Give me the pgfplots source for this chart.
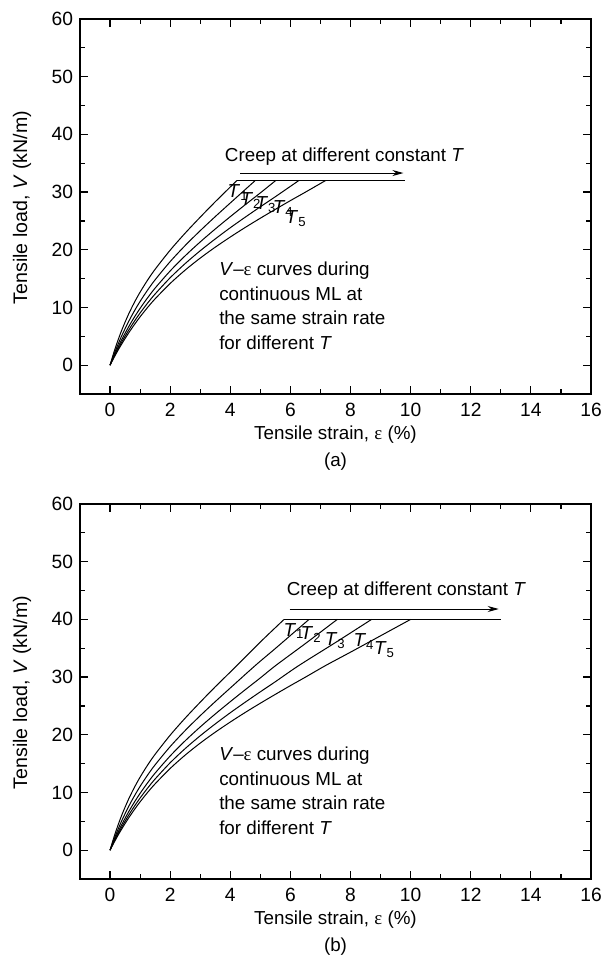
\documentclass[border=0pt]{standalone}
\usepackage{fontspec}
\setmainfont{Liberation Sans}
\newfontfamily\serifgr{Liberation Serif}
\usepackage{pgfplots}
\pgfplotsset{compat=1.18}
\usetikzlibrary{arrows.meta}
\pgfplotstableread{
x y
0 0
0.1 1.76
0.2 3.36
0.3 4.84
0.4 6.21
0.6 8.65
0.8 10.78
1.0 12.66
1.25 14.75
1.5 16.62
2.0 19.93
2.5 22.89
3.0 25.65
3.5 28.32
4.22 32
5.0 36.08
5.79 40
}\tA
\pgfplotstableread{
x y
0 0
0.1 1.44
0.2 2.78
0.3 4.04
0.4 5.23
0.6 7.38
0.8 9.31
1.0 11.06
1.25 13.02
1.5 14.80
2.0 17.95
2.5 20.74
3.0 23.31
3.5 25.75
4.0 28.11
4.83 32
5.5 34.96
6.0 37.21
6.62 40
}\tB
\pgfplotstableread{
x y
0 0
0.1 1.23
0.2 2.40
0.3 3.50
0.4 4.54
0.6 6.48
0.8 8.24
1.0 9.85
1.25 11.68
1.5 13.36
2.0 16.33
2.5 18.96
3.0 21.36
3.5 23.60
4.0 25.74
4.5 27.82
5.0 29.86
5.51 32
6.5 35.82
7.56 40
}\tC
\pgfplotstableread{
x y
0 0
0.1 1.10
0.2 2.16
0.3 3.16
0.4 4.11
0.6 5.90
0.8 7.53
1.0 9.04
1.25 10.76
1.5 12.34
2.0 15.15
2.5 17.61
3.0 19.83
3.5 21.88
4.0 23.82
4.5 25.66
5.0 27.45
5.5 29.20
6.28 32
7.5 35.99
8.7 40
}\tD
\pgfplotstableread{
x y
0 0
0.1 1.01
0.2 1.97
0.3 2.89
0.4 3.77
0.6 5.43
0.8 6.96
1.0 8.38
1.25 10.01
1.5 11.50
2.0 14.16
2.5 16.48
3.0 18.56
3.5 20.45
4.0 22.21
4.5 23.88
5.0 25.47
5.5 27.01
6.0 28.52
6.5 29.99
7.17 32
8.0 34.32
9.0 37.16
10.0 40
}\tE
\pgfplotsset{
  myaxis/.style={
    width=255.5pt, height=187.5pt, scale only axis,
    xmin=-1, xmax=16, ymin=-5, ymax=60,
    xtick={0,2,...,16}, ytick={0,10,...,60},
    minor xtick={1,3,...,15}, minor ytick={-5,5,15,...,55},
    tick align=inside, xtick pos=both, ytick pos=both,
    major tick length=4pt, minor tick length=2.5pt,
    every tick/.style={black, line width=0.6pt},
    axis line style={line width=0.7pt},
    /pgf/number format/assume math mode=true,
    ticklabel style={font=\fontsize{9.6}{11}\selectfont},
    xticklabel style={yshift=-1pt},
    xlabel={Tensile strain, {\serifgr ε} (\%)},
    ylabel={Tensile load, \textit{V} (kN/m)},
    label style={font=\fontsize{9.4}{11}\selectfont},
    ylabel style={font=\fontsize{9.8}{11}\selectfont},
    xlabel style={at={(axis description cs:0.5,-0.109)}, anchor=center},
    ylabel style={at={(axis description cs:-0.1135,0.497)}, anchor=center},
    clip=false,
  },
  crv/.style={black, line width=0.5pt, no markers, smooth, tension=0.5},
}
\newcommand{\Tl}[1]{\textit{T}\textsubscript{#1}}
\begin{document}
\begin{tikzpicture}[font=\fontsize{9.4}{12.4}\selectfont]
% panel (a)
\begin{axis}[myaxis, at={(0,242.5pt)}, anchor=south west,
  restrict y to domain=-1:32.01]
\addplot[crv] table {\tA};
\addplot[crv] table {\tB};
\addplot[crv] table {\tC};
\addplot[crv] table {\tD};
\addplot[crv] table {\tE};
\addplot[black, line width=0.5pt, no markers] coordinates {(4.22,32) (9.82,32)};
\draw[black, line width=0.5pt, -{Stealth[length=5.5pt,width=3pt]}] (axis cs:4.33,33.3) -- (axis cs:9.76,33.3);
\node[anchor=west, inner sep=0pt] at (axis cs:3.81,36.2) {Creep at different constant \textit{T}};
\node[anchor=base west, inner sep=0pt] at (axis cs:3.9,29.1) {\Tl{1}};
\node[anchor=base west, inner sep=0pt] at (axis cs:4.33,27.7) {\Tl{2}};
\node[anchor=base west, inner sep=0pt] at (axis cs:4.83,26.9) {\Tl{3}};
\node[anchor=base west, inner sep=0pt] at (axis cs:5.4,26.3) {\Tl{4}};
\node[anchor=base west, inner sep=0pt] at (axis cs:5.83,24.6) {\Tl{5}};
\node[anchor=west, align=left, inner sep=0pt] at (axis cs:3.62,10.3) {\textit{V}--{\serifgr ε} curves during\\continuous ML at\\the same strain rate\\for different \textit{T}};
\node[anchor=center] at (axis description cs:0.5,-0.181) {(a)};
\end{axis}
% panel (b)
\begin{axis}[myaxis, at={(0,0)}, anchor=south west]
\addplot[crv] table {\tA};
\addplot[crv] table {\tB};
\addplot[crv] table {\tC};
\addplot[crv] table {\tD};
\addplot[crv] table {\tE};
\addplot[black, line width=0.5pt, no markers] coordinates {(5.79,40) (13.02,40)};
\draw[black, line width=0.5pt, -{Stealth[length=5.5pt,width=3pt]}] (axis cs:5.97,41.8) -- (axis cs:12.93,41.8);
\node[anchor=west, inner sep=0pt] at (axis cs:5.87,44.9) {Creep at different constant \textit{T}};
\node[anchor=base west, inner sep=0pt] at (axis cs:5.76,37.1) {\Tl{1}};
\node[anchor=base west, inner sep=0pt] at (axis cs:6.33,36.5) {\Tl{2}};
\node[anchor=base west, inner sep=0pt] at (axis cs:7.13,35.4) {\Tl{3}};
\node[anchor=base west, inner sep=0pt] at (axis cs:8.09,35.3) {\Tl{4}};
\node[anchor=base west, inner sep=0pt] at (axis cs:8.77,33.9) {\Tl{5}};
\node[anchor=west, align=left, inner sep=0pt] at (axis cs:3.62,10.3) {\textit{V}--{\serifgr ε} curves during\\continuous ML at\\the same strain rate\\for different \textit{T}};
\node[anchor=center] at (axis description cs:0.5,-0.181) {(b)};
\end{axis}
\pgfresetboundingbox
\useasboundingbox (-40pt,-39pt) rectangle (261pt,439.5pt);
\end{tikzpicture}
\end{document}
